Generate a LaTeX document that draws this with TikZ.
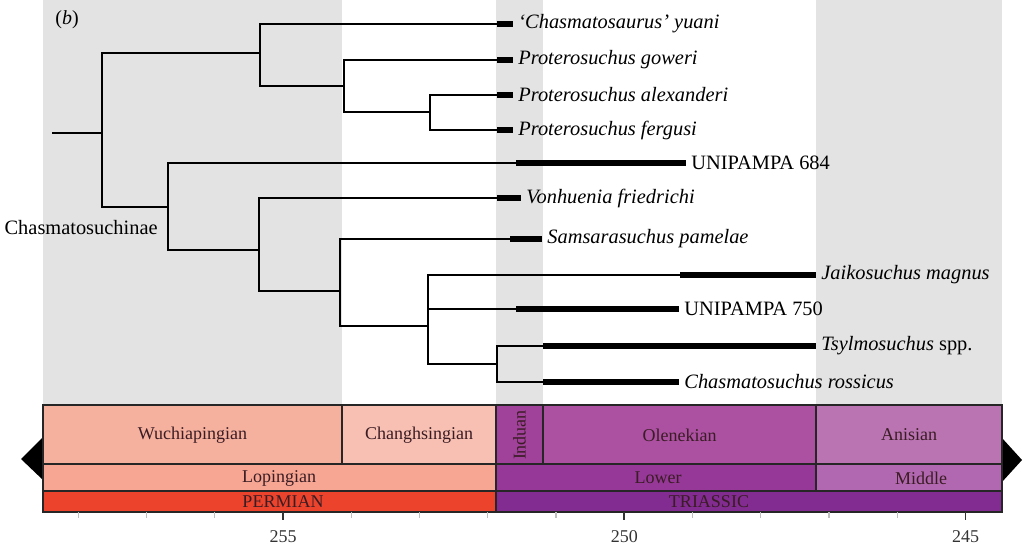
\documentclass[tikz,border=0pt]{standalone}
\usepackage{fontspec}
\setmainfont{Liberation Serif}
\usetikzlibrary{positioning}

\definecolor{bandgray}{RGB}{227,227,227}
\definecolor{wuchia}{RGB}{246,176,158}
\definecolor{changh}{RGB}{248,192,178}
\definecolor{loping}{RGB}{246,166,146}
\definecolor{perm}{RGB}{236,68,44}
\definecolor{induan}{RGB}{160,66,154}
\definecolor{olenek}{RGB}{172,80,162}
\definecolor{anis}{RGB}{186,116,178}
\definecolor{lowtri}{RGB}{150,56,152}
\definecolor{midtri}{RGB}{178,104,176}
\definecolor{trias}{RGB}{130,44,146}
\definecolor{chronoink}{RGB}{58,28,36}

\tikzset{
    branch/.style={line width=1pt},
    stratbar/.style={line width=2.6pt},
    taxon/.style={anchor=west, inner xsep=2.5pt, font=\fontsize{10.2}{12}\selectfont\itshape},
    plaintaxon/.style={anchor=west, inner xsep=2.5pt, font=\fontsize{10.2}{12}\selectfont},
    chrono/.style={draw=black!85, line width=0.6pt},
    chronolabel/.style={text=chronoink, font=\fontsize{9}{11}\selectfont, inner sep=0pt},
}

\begin{document}
\begin{tikzpicture}[x=0.5pt,y=-0.5pt]
    \useasboundingbox (0,0) rectangle (1024,546);

    % shaded stages
    \fill[bandgray] (43,0) rectangle (342,405);
    \fill[bandgray] (496,0) rectangle (543,405);
    \fill[bandgray] (816,0) rectangle (1002,405);

    \node[font=\fontsize{10}{12}\selectfont] (panel) at (67,20) {(\textit{b})};

    % internal nodes
    \coordinate (stem) at (52,133);
    \coordinate (root) at (102,133);
    \coordinate (nA) at (260,53);
    \coordinate (nB) at (344,86);
    \coordinate (nC) at (430,112);
    \coordinate (nD) at (168,207);
    \coordinate (nE) at (259,250);
    \coordinate (nF) at (340,291);
    \coordinate (nG) at (428,326);
    \coordinate (nH) at (497,364);

    % tips: first record, last record
    \coordinate (t1) at (497,24);   \coordinate (e1) at (513,24);
    \coordinate (t2) at (497,60);   \coordinate (e2) at (513,60);
    \coordinate (t3) at (497,95);   \coordinate (e3) at (513,95);
    \coordinate (t4) at (497,130);  \coordinate (e4) at (513,130);
    \coordinate (t5) at (516,163);  \coordinate (e5) at (686,163);
    \coordinate (t6) at (497,198);  \coordinate (e6) at (521,198);
    \coordinate (t7) at (510,239);  \coordinate (e7) at (542,239);
    \coordinate (t8) at (680,275);  \coordinate (e8) at (816,275);
    \coordinate (t9) at (516,309);  \coordinate (e9) at (679,309);
    \coordinate (t10) at (543,346); \coordinate (e10) at (816,346);
    \coordinate (t11) at (543,382); \coordinate (e11) at (679,382);

    \draw[branch] (stem) -- (root);
    \draw[branch] (root) |- (nA);
    \draw[branch] (root) |- (nD);
    \draw[branch] (nA) |- (t1);
    \draw[branch] (nA) |- (nB);
    \draw[branch] (nB) |- (t2);
    \draw[branch] (nB) |- (nC);
    \draw[branch] (nC) |- (t3);
    \draw[branch] (nC) |- (t4);
    \draw[branch] (nD) |- (t5);
    \draw[branch] (nD) |- (nE);
    \draw[branch] (nE) |- (t6);
    \draw[branch] (nE) |- (nF);
    \draw[branch] (nF) |- (t7);
    \draw[branch] (nF) |- (nG);
    \draw[branch] (nG) |- (t8);
    \draw[branch] (nG) |- (t9);
    \draw[branch] (nG) |- (nH);
    \draw[branch] (nH) |- (t10);
    \draw[branch] (nH) |- (t11);

    \foreach \i in {1,...,11}
        \draw[stratbar] (t\i) -- (e\i);

    \node[taxon] (l1) at (e1) {`Chasmatosaurus' yuani};
    \node[taxon] (l2) at (e2) {Proterosuchus goweri};
    \node[taxon] (l3) at (e3) {Proterosuchus alexanderi};
    \node[taxon] (l4) at (e4) {Proterosuchus fergusi};
    \node[plaintaxon] (l5) at (e5) {UNIPAMPA 684};
    \node[taxon] (l6) at (e6) {Vonhuenia friedrichi};
    \node[taxon] (l7) at (e7) {Samsarasuchus pamelae};
    \node[taxon] (l8) at (e8) {Jaikosuchus magnus};
    \node[plaintaxon] (l9) at (e9) {UNIPAMPA 750};
    \node[taxon] (l10) at (e10) {Tsylmosuchus \textup{spp.}};
    \node[taxon] (l11) at (e11) {Chasmatosuchus rossicus};

    \node[plaintaxon, anchor=east, inner xsep=0pt] (clade) at (158,228) {Chasmatosuchinae};

    % time scale
    \fill (43,437) -- (21,459) -- (43,480) -- cycle;
    \fill (1002,438) -- (1022,460) -- (1002,482) -- cycle;

    \draw[chrono, fill=wuchia] (43,405) rectangle (342,464);
    \draw[chrono, fill=changh] (342,405) rectangle (496,464);
    \draw[chrono, fill=induan] (496,405) rectangle (543,464);
    \draw[chrono, fill=olenek] (543,405) rectangle (816,464);
    \draw[chrono, fill=anis] (816,405) rectangle (1002,464);
    \draw[chrono, fill=loping] (43,464) rectangle (496,491);
    \draw[chrono, fill=lowtri] (496,464) rectangle (816,491);
    \draw[chrono, fill=midtri] (816,464) rectangle (1002,491);
    \draw[chrono, fill=perm] (43,491) rectangle (496,512);
    \draw[chrono, fill=trias] (496,491) rectangle (1002,512);

    \node[chronolabel] (wuc) at (192.5,435) {Wuchiapingian};
    \node[chronolabel] (cha) at (419,435) {Changhsingian};
    \node[chronolabel, rotate=90] (ind) at (519.5,435) {Induan};
    \node[chronolabel] (ole) at (679.5,435) {Olenekian};
    \node[chronolabel] (ani) at (909,435) {Anisian};
    \node[chronolabel] (lop) at (279,478) {Lopingian};
    \node[chronolabel] (low) at (658,478) {Lower};
    \node[chronolabel] (mid) at (921,478) {Middle};
    \node[chronolabel] (per) at (283,502) {PERMIAN};
    \node[chronolabel] (tri) at (709,502) {TRIASSIC};

    % axis
    \foreach \ma in {245,...,258} {
        \pgfmathsetmacro\tx{283+(255-\ma)*68.25}
        \draw[black!25, line width=0.6pt] (\tx,512) -- (\tx,518);
    }
    \foreach \ma in {245,250,255} {
        \pgfmathsetmacro\tx{283+(255-\ma)*68.25}
        \draw[black!80, line width=0.8pt] (\tx,512) -- (\tx,520);
        \node[font=\fontsize{9}{11}\selectfont, text=black!80] (ax\ma) at (\tx,537) {\ma};
    }
\end{tikzpicture}
\end{document}
